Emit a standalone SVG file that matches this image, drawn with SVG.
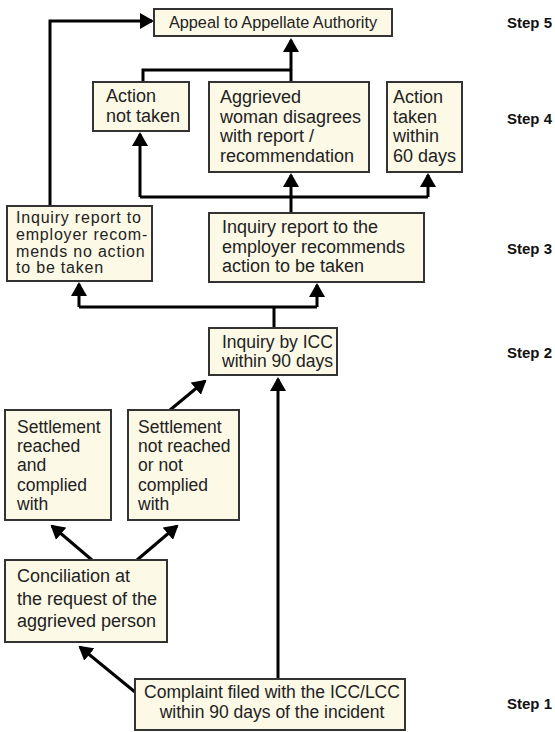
<svg xmlns="http://www.w3.org/2000/svg" width="555" height="732" viewBox="0 0 555 732">
<defs>
<marker id="ah" viewBox="0 0 14 16" refX="12" refY="8" markerWidth="14" markerHeight="16" markerUnits="userSpaceOnUse" orient="auto">
<path d="M0,0 L14,8 L0,16 z" fill="#000"/>
</marker>
<style>
.box{fill:#fcf9e6;stroke:#333;stroke-width:2}
.t{font-family:"Liberation Sans",Arial,sans-serif;fill:#222}
.step{font-family:"Liberation Sans",Arial,sans-serif;font-weight:bold;font-size:15px;fill:#111}
.c{fill:none;stroke:#000;stroke-width:3}
.a{marker-end:url(#ah)}
</style>
</defs>
<rect width="555" height="732" fill="#fff"/>
<g id="connectors">
<path class="c a" d="M50,206 V21 H152"/>
<path class="c" d="M143,82 V70 H291"/>
<path class="c a" d="M291,82 V40"/>
<path class="c" d="M140,197 H428"/>
<path class="c a" d="M140,197 V134"/>
<path class="c a" d="M291,213 V175"/>
<path class="c a" d="M428,197 V175"/>
<path class="c" d="M79,307 H317"/>
<path class="c a" d="M79,307 V284"/>
<path class="c a" d="M317,307 V285"/>
<path class="c" d="M274,328 V307"/>
<path class="c a" d="M278,679 V379"/>
<path class="c a" d="M170,410 L205,381"/>
<path class="c a" d="M92,560 L52,526"/>
<path class="c a" d="M137,560 L177,526"/>
<path class="c a" d="M135,692 L80,647"/>
</g>
<g id="appeal">
<rect class="box" x="154" y="9" width="238" height="27"/>
<text class="t" x="273" y="28" font-size="16.3" text-anchor="middle">Appeal to Appellate Authority</text>
</g>
<g id="action-not-taken">
<rect class="box" x="93" y="82" width="96" height="49"/>
<text class="t" x="106" y="102" font-size="18">Action</text>
<text class="t" x="106" y="122" font-size="18">not taken</text>
</g>
<g id="aggrieved">
<rect class="box" x="209" y="82" width="160" height="90"/>
<text class="t" font-size="18"><tspan x="220" y="103">Aggrieved</tspan><tspan x="220" y="123">woman disagrees</tspan><tspan x="220" y="142">with report /</tspan><tspan x="220" y="162">recommendation</tspan></text>
</g>
<g id="action-taken">
<rect class="box" x="387" y="82" width="75" height="90"/>
<text class="t" font-size="18"><tspan x="393" y="103">Action</tspan><tspan x="393" y="123">taken</tspan><tspan x="393" y="142">within</tspan><tspan x="393" y="162">60 days</tspan></text>
</g>
<g id="inquiry-no-action">
<rect class="box" x="7" y="206" width="145" height="75"/>
<text class="t" font-size="16" letter-spacing="0.8"><tspan x="16" y="223">Inquiry report to</tspan><tspan x="16" y="240">employer recom-</tspan><tspan x="16" y="257">mends no action</tspan><tspan x="16" y="273">to be taken</tspan></text>
</g>
<g id="inquiry-action">
<rect class="box" x="209" y="213" width="215" height="69"/>
<text class="t" font-size="18"><tspan x="222" y="233">Inquiry report to the</tspan><tspan x="222" y="253">employer recommends</tspan><tspan x="222" y="272">action to be taken</tspan></text>
</g>
<g id="inquiry-icc">
<rect class="box" x="209" y="328" width="128" height="47"/>
<text class="t" font-size="17.5"><tspan x="222" y="348">Inquiry by ICC</tspan><tspan x="222" y="367">within 90 days</tspan></text>
</g>
<g id="settlement-reached">
<rect class="box" x="5" y="410" width="106" height="110"/>
<text class="t" font-size="17.5"><tspan x="17" y="433">Settlement</tspan><tspan x="17" y="452">reached</tspan><tspan x="17" y="471">and</tspan><tspan x="17" y="491">complied</tspan><tspan x="17" y="510">with</tspan></text>
</g>
<g id="settlement-not-reached">
<rect class="box" x="128" y="410" width="111" height="110"/>
<text class="t" font-size="17.5"><tspan x="138" y="433">Settlement</tspan><tspan x="138" y="452">not reached</tspan><tspan x="138" y="471">or not</tspan><tspan x="138" y="491">complied</tspan><tspan x="138" y="510">with</tspan></text>
</g>
<g id="conciliation">
<rect class="box" x="5" y="560" width="162" height="82"/>
<text class="t" font-size="18"><tspan x="17" y="582">Conciliation at</tspan><tspan x="17" y="605">the request of the</tspan><tspan x="17" y="627">aggrieved person</tspan></text>
</g>
<g id="complaint">
<rect class="box" x="135" y="679" width="270" height="51"/>
<text class="t" font-size="17.5" text-anchor="middle"><tspan x="272" y="698">Complaint filed with the ICC/LCC</tspan><tspan x="272" y="718">within 90 days of the incident</tspan></text>
</g>
<g id="steps">
<text class="step" x="507" y="28">Step 5</text>
<text class="step" x="507" y="124">Step 4</text>
<text class="step" x="507" y="254">Step 3</text>
<text class="step" x="507" y="358">Step 2</text>
<text class="step" x="507" y="709">Step 1</text>
</g>
</svg>
